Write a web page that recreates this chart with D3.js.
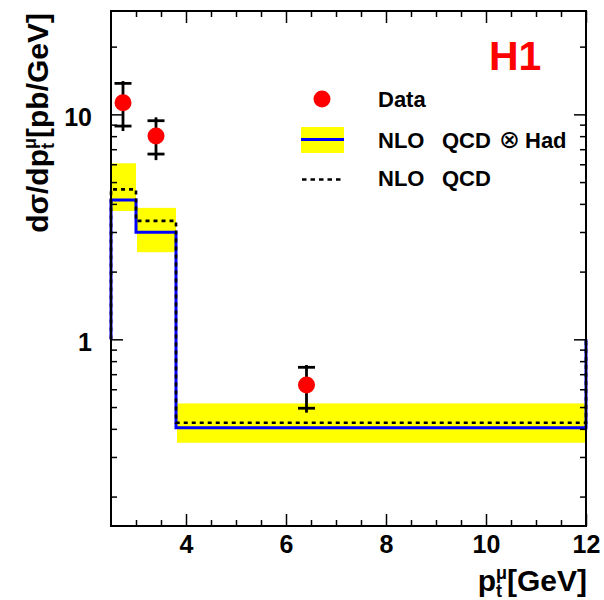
<!DOCTYPE html>
<html>
<head>
<meta charset="utf-8">
<script src="https://cdn.jsdelivr.net/npm/d3@7"></script>
<style>
body { margin: 0; background: #fff; }
svg { display: block; }
text { font-family: "Liberation Sans", Arial, Helvetica, sans-serif; font-weight: bold; }
</style>
</head>
<body>
<div id="chart"></div>
<script>
// bins and theory curves
var binEdges = [2.5, 3.0, 3.8, 12];
var nloHad = [4.16, 2.99, 0.405];
var nloHadLow = [3.72, 2.44, 0.347];
var nloHadHigh = [6.06, 3.84, 0.519];
var nloOnly = [4.64, 3.36, 0.426];

// H1 data points
var dataX = [2.74, 3.40, 6.41];
var dataY = [11.26, 8.01, 0.626];
var statLow = [8.87, 6.66, 0.494];
var statHigh = [13.73, 9.37, 0.751];
var totLow = [8.43, 6.26, 0.472];
var totHigh = [14.06, 9.70, 0.769];

// ticks
var xMajor = [4, 6, 8, 10, 12];
var xMinor = [3, 3.5, 4.5, 5, 5.5, 6.5, 7, 7.5, 8.5, 9, 9.5, 10.5, 11, 11.5];
var yMajor = [1, 10];
var yMinor = [0.2, 0.3, 0.4, 0.5, 0.6, 0.7, 0.8, 0.9, 2, 3, 4, 5, 6, 7, 8, 9, 20];

var W = 604, H = 600;
var pLeft = 111, pRight = 586, pTop = 11, pBottom = 526;

var svg = d3.select("#chart").append("svg")
    .attr("width", W)
    .attr("height", H);

var x = d3.scaleLinear().domain([2.5, 12]).range([pLeft, pRight]);
var y = d3.scaleLog().domain([0.148, 28.8]).range([pBottom, pTop]);

// yellow uncertainty band
svg.selectAll(".band")
    .data(nloHad)
    .enter()
    .append("rect")
    .attr("class", "band")
    .attr("x", function(d, i) { return x(binEdges[i]) + (i > 0 ? 1 : 0); })
    .attr("width", function(d, i) { return x(binEdges[i + 1]) - x(binEdges[i]) - (i > 0 ? 1 : 0); })
    .attr("y", function(d, i) { return y(nloHadHigh[i]); })
    .attr("height", function(d, i) { return y(nloHadLow[i]) - y(nloHadHigh[i]); })
    .attr("fill", "#ffff00");

// histogram outline, starting and ending at 1
function histPoints(vals) {
    var pts = [[x(binEdges[0]), y(1)]];
    for (var i = 0; i < vals.length; i++) {
        pts.push([x(binEdges[i]), y(vals[i])]);
        pts.push([x(binEdges[i + 1]), y(vals[i])]);
    }
    pts.push([x(binEdges[binEdges.length - 1]), y(1)]);
    return pts;
}

svg.append("path")
    .attr("d", d3.line()(histPoints(nloHad)))
    .attr("fill", "none")
    .attr("stroke", "#0000ff")
    .attr("stroke-width", 3);

svg.append("path")
    .attr("d", d3.line()(histPoints(nloOnly)))
    .attr("fill", "none")
    .attr("stroke", "#000")
    .attr("stroke-width", 2.6)
    .attr("stroke-dasharray", "4,4");

// data: error bars then markers
var pts = svg.selectAll(".pt")
    .data(dataY)
    .enter()
    .append("g")
    .attr("class", "pt");

pts.append("line")
    .attr("x1", function(d, i) { return x(dataX[i]); })
    .attr("x2", function(d, i) { return x(dataX[i]); })
    .attr("y1", function(d, i) { return y(totHigh[i]); })
    .attr("y2", function(d, i) { return y(totLow[i]); })
    .attr("stroke", "#000")
    .attr("stroke-width", 2.8);

[statHigh, statLow].forEach(function(arr) {
    pts.append("line")
        .attr("x1", function(d, i) { return x(dataX[i]) - 8.5; })
        .attr("x2", function(d, i) { return x(dataX[i]) + 8.5; })
        .attr("y1", function(d, i) { return y(arr[i]); })
        .attr("y2", function(d, i) { return y(arr[i]); })
        .attr("stroke", "#000")
        .attr("stroke-width", 2.8);
});

pts.append("circle")
    .attr("cx", function(d, i) { return x(dataX[i]); })
    .attr("cy", function(d) { return y(d); })
    .attr("r", 8.5)
    .attr("fill", "#ff0000");

// axes (ticks point inward)
function styleAxis(g) {
    g.select(".domain").remove();
    g.selectAll("line").attr("stroke", "#000").attr("stroke-width", 1.5);
    g.selectAll("text").attr("font-size", 25).attr("fill", "#000")
        .attr("font-family", "'Liberation Sans', Arial, Helvetica, sans-serif");
}

svg.append("g")
    .attr("transform", "translate(0," + pBottom + ")")
    .call(d3.axisBottom(x).tickValues(xMajor).tickSizeInner(-12).tickSizeOuter(0).tickPadding(9).tickFormat(d3.format("d")))
    .call(styleAxis);
svg.append("g")
    .attr("transform", "translate(0," + pBottom + ")")
    .call(d3.axisBottom(x).tickValues(xMinor).tickSizeInner(-6).tickSizeOuter(0).tickFormat(""))
    .call(styleAxis);
svg.append("g")
    .attr("transform", "translate(0," + pTop + ")")
    .call(d3.axisTop(x).tickValues(xMajor).tickSizeInner(-12).tickSizeOuter(0).tickFormat(""))
    .call(styleAxis);
svg.append("g")
    .attr("transform", "translate(0," + pTop + ")")
    .call(d3.axisTop(x).tickValues(xMinor).tickSizeInner(-6).tickSizeOuter(0).tickFormat(""))
    .call(styleAxis);

svg.append("g")
    .attr("transform", "translate(" + pLeft + ",0)")
    .call(d3.axisLeft(y).tickValues(yMajor).tickSizeInner(-12).tickSizeOuter(0).tickPadding(19).tickFormat(d3.format("d")))
    .call(styleAxis)
    .selectAll("text").attr("dy", "0.44em");
svg.append("g")
    .attr("transform", "translate(" + pLeft + ",0)")
    .call(d3.axisLeft(y).tickValues(yMinor).tickSizeInner(-6).tickSizeOuter(0).tickFormat(""))
    .call(styleAxis);
svg.append("g")
    .attr("transform", "translate(" + pRight + ",0)")
    .call(d3.axisRight(y).tickValues(yMajor).tickSizeInner(-12).tickSizeOuter(0).tickFormat(""))
    .call(styleAxis);
svg.append("g")
    .attr("transform", "translate(" + pRight + ",0)")
    .call(d3.axisRight(y).tickValues(yMinor).tickSizeInner(-6).tickSizeOuter(0).tickFormat(""))
    .call(styleAxis);

// frame
svg.append("rect")
    .attr("x", pLeft)
    .attr("y", pTop)
    .attr("width", pRight - pLeft)
    .attr("height", pBottom - pTop)
    .attr("fill", "none")
    .attr("stroke", "#000")
    .attr("stroke-width", 2);

// axis titles
var xt = svg.append("text")
    .attr("x", 587)
    .attr("y", 591)
    .attr("text-anchor", "end")
    .attr("font-size", 30);
xt.append("tspan").text("p");
xt.append("tspan").attr("font-size", 18).attr("dy", 6).text("t");
xt.append("tspan").attr("font-size", 18).attr("dx", -6).attr("dy", -18).text("μ");
xt.append("tspan").attr("dy", 12).text("[GeV]");

var yt = svg.append("text")
    .attr("transform", "translate(48,13) rotate(-90)")
    .attr("text-anchor", "end")
    .attr("font-size", 30);
yt.append("tspan").text("dσ/dp");
yt.append("tspan").attr("font-size", 18).attr("dy", 6).text("t");
yt.append("tspan").attr("font-size", 18).attr("dx", -6).attr("dy", -18).text("μ");
yt.append("tspan").attr("dy", 12).text("[pb/GeV]");

// H1 label
svg.append("text")
    .attr("x", 489)
    .attr("y", 70)
    .attr("font-size", 41)
    .attr("fill", "#ff0000")
    .text("H1");

// legend
var lg = svg.append("g");
lg.append("circle").attr("cx", 322).attr("cy", 99).attr("r", 8.5).attr("fill", "#ff0000");
lg.append("text").attr("x", 378).attr("y", 106.5).attr("font-size", 22).text("Data");

lg.append("rect").attr("x", 301).attr("y", 127).attr("width", 43).attr("height", 26).attr("fill", "#ffff00");
lg.append("line").attr("x1", 301).attr("x2", 344).attr("y1", 139.5).attr("y2", 139.5)
    .attr("stroke", "#0000ff").attr("stroke-width", 3);
var t2 = lg.append("text").attr("y", 148.3).attr("font-size", 22);
t2.append("tspan").attr("x", 378).text("NLO");
t2.append("tspan").attr("x", 442).text("QCD");
t2.append("tspan").attr("x", 499).attr("font-weight", "normal")
    .attr("font-family", "'DejaVu Sans', sans-serif").attr("font-size", 25).text("⊗");
t2.append("tspan").attr("x", 525).text("Had");

lg.append("line").attr("x1", 302).attr("x2", 344).attr("y1", 179.5).attr("y2", 179.5)
    .attr("stroke", "#000").attr("stroke-width", 2.6).attr("stroke-dasharray", "4.5,4");
var t3 = lg.append("text").attr("y", 186).attr("font-size", 22);
t3.append("tspan").attr("x", 378).text("NLO");
t3.append("tspan").attr("x", 442).text("QCD");
</script>
</body>
</html>
